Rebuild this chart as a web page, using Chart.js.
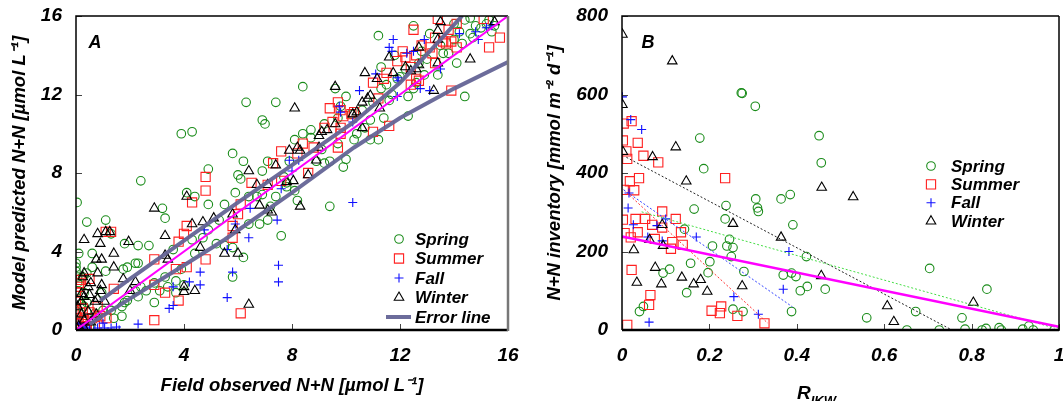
<!DOCTYPE html>
<html>
<head>
<meta charset="utf-8">
<script src="https://cdn.jsdelivr.net/npm/chart.js@4.4.0/dist/chart.umd.min.js"></script>
<style>
html, body { margin: 0; background: #fff; overflow: hidden; }
canvas { display: block; }
#wrapA { position: absolute; left: 0; top: 0; }
#wrapB { position: absolute; left: 530px; top: 0; }
</style>
</head>
<body>
<div id="wrapA"><canvas id="chartA" width="530" height="401"></canvas></div>
<div id="wrapB"><canvas id="chartB" width="533" height="401"></canvas></div>
<script>
// ---- Panel A data: [field observed, model predicted] ----
var springA = [
  [0.04,6.5],[2.4,7.6],[3.9,10.0],[4.3,10.1],[6.3,11.6],[7.4,11.6],[6.9,10.7],[7.0,10.5],[8.4,12.4],[11.2,15.0],
  [12.5,15.5],[14.4,11.9],[12.3,10.9],[9.4,6.3],[7.6,4.8],[5.8,2.7],[4.9,6.4],[4.9,8.2],[5.8,9.0],[6.2,8.6],
  [4.1,7.0],[4.4,6.8],[1.1,5.6],[0.4,5.5],[0.1,3.9],[0,3.4],[0,3.2],[0,3.0],[3.2,6.2],[3.3,5.7],
  [0.6,3.9],[1.8,4.4],[2.3,4.3],[2.7,4.3],[1.75,3.1],[1.9,3.2],[2.2,3.4],[2.3,3.4],[1.3,4.9],[1.1,3.0],
  [2.9,1.4],[1.8,1.4],[1.4,0.6],[1.7,0.7],[0.8,0.7],[3.3,2.7],[3.7,1.9],[4.0,2.3],[3.6,4.1],[4.3,4.6],
  [4.9,5.1],[5.5,6.4],[5.9,7.0],[6.0,7.9],[6.1,7.7],[6.4,6.8],[6.4,5.4],[6.8,5.4],[7.1,5.6],[6.7,6.8],
  [6.9,6.9],[7.1,8.6],[6.9,8.1],[6.2,3.7],[5.8,4.2],[5.5,4.3],[5.3,5.6],[7.8,7.3],[7.8,7.5],[8.1,7.1],
  [8.2,6.6],[7.9,8.6],[8.1,9.7],[8.4,10.0],[8.7,9.8],[9.1,9.2],[9.4,8.6],[9.9,8.3],[10.0,8.7],[9.7,9.5],
  [10.3,9.7],[10.4,10.0],[10.7,10.3],[10.9,10.7],[10.9,9.7],[11.2,9.7],[10.2,11.0],[10.0,11.9],[9.8,11.4],[9.6,12.3],
  [11.4,10.8],[11.6,11.7],[11.7,12.0],[11.9,12.8],[12.3,11.9],[12.5,12.3],[12.9,13.0],[12.7,13.6],[13.4,13.0],[14.1,13.6],
  [13.8,14.1],[13.6,14.1],[14.3,14.6],[14.6,15.1],[14.8,15.5],[15.0,15.4],[15.2,15.6],[15.4,15.2],[14.6,15.9],[14.4,15.8],
  [14.0,15.6],[13.1,15.1],[11.8,14.0],[11.3,13.4],[11.3,12.3],[9.7,10.8],[9.2,10.5],[8.7,10.2],[8.9,8.6],[9.2,8.5],
  [7.4,6.8],[7.7,7.8],[7.2,6.3],[5.2,4.4],[4.7,4.7],[4.4,3.9],[3.9,3.1],[3.7,2.5],[3.4,2.2],[2.9,2.4],
  [3.1,2.0],[2.6,2.0],[2.4,2.2],[2.2,2.0],[2.3,1.7],[1.9,1.5],[1.7,1.2],[1.3,1.0],[1.0,1.0],[0.7,0.85],
  [0.3,1.2],[0.3,1.9],[0.06,2.0],[0.06,2.4],[0.06,2.7],[0.1,1.5],[0.2,1.3],[0.4,1.4],[0,0.5],[0.04,0.8],
  [0.1,0.25],[0.5,0.17],[0.25,2.7],[0.6,3.2],[0.4,2.9],[0.95,1.9],[12.0,12.9],[12.2,13.3],[12.6,12.6],[13.0,13.8],
  [13.5,14.5],[14.0,14.8],[14.2,15.2],[14.7,14.9],[15.3,15.8],[15.5,15.5],[12.8,14.2],[11.5,12.5],[10.6,11.2],[11.0,11.6]
];
var summerA = [
  [13.4,15.85],[15.1,15.85],[12.5,15.3],[15.7,14.9],[15.3,14.4],[14.1,15.6],[13.8,15.3],[13.6,14.7],[13.7,14.6],[13.9,14.7],
  [14.1,14.4],[13.3,14.9],[13.1,14.4],[12.8,14.5],[13.2,14.1],[13.3,13.6],[12.6,14.0],[12.1,14.2],[12.2,13.9],[11.9,13.7],
  [12.4,13.4],[12.6,12.8],[12.7,12.7],[12.4,12.5],[11.5,13.1],[11.4,12.8],[11.0,12.6],[11.2,11.8],[11.6,10.4],[11.0,10.1],
  [13.9,12.2],[9.4,11.3],[9.7,11.6],[9.8,11.2],[9.9,10.9],[10.2,11.0],[10.3,11.1],[9.5,10.6],[9.8,10.3],[9.8,10.0],
  [9.7,9.3],[9.2,10.3],[8.4,9.5],[8.8,9.3],[8.2,9.0],[8.6,8.0],[7.6,9.1],[7.3,8.5],[7.6,7.6],[7.1,7.4],
  [6.5,7.5],[6.1,6.4],[6.0,5.9],[5.8,5.3],[5.8,4.7],[4.8,7.8],[4.8,7.1],[4.3,6.5],[4.1,5.3],[4.0,4.9],
  [3.8,4.5],[3.7,3.1],[4.1,3.2],[4.8,3.6],[2.9,3.6],[2.9,2.3],[3.3,1.9],[3.8,1.5],[2.9,0.5],[6.1,0.85],
  [1.1,5.0],[1.3,5.0],[0.9,0.7],[0.5,2.6],[0.1,2.4],[0,1.9],[0,1.5],[0.19,2.55],[0.12,2.2],[1.4,2.1],
  [0,0],[0.1,0.1],[0.2,0.3],[0.05,0.6],[0.3,0.5],[0.15,0.9],[0.4,0.2],[0.6,0.6],[0.1,0.35],[0.25,1.1],
  [0.5,0.9],[0.8,1.2],[0,1.0],[0,0.3],[0.35,0],[0.7,0.2],[1.13,0.6]
];
var fallA = [
  [11.75,14.8],[11.6,14.4],[11.7,14.2],[12.9,14.8],[12.5,14.2],[12.25,14.1],[13.5,13.3],[13.1,12.2],[12.75,12.3],[11.9,12.85],
  [11.95,12.7],[11.1,13.05],[10.5,12.2],[11.9,11.9],[14.2,15.1],[14.8,15.2],[14.9,14.8],[15.2,15.4],[15.4,15.5],[9.75,11.4],
  [9.8,11.1],[10.25,10.6],[10.25,6.5],[7.9,8.65],[8.25,8.65],[8.0,8.1],[7.6,7.2],[6.45,6.2],[6.4,4.7],[5.9,5.4],
  [4.75,5.1],[7.45,5.6],[7.5,3.3],[7.5,2.45],[5.8,2.95],[5.6,4.1],[5.6,1.65],[4.6,2.95],[4.6,2.3],[4.2,2.45],
  [3.6,2.2],[3.45,1.1],[3.6,1.25],[2.3,0.3],[0.4,0.1],[0.5,0],[0.7,0],[0.8,0.1],[1.06,0.1],[1.3,0.1],
  [1.5,0.15],[1.6,0],[0.1,0.3],[0.2,0.05],[0.3,0.15],[1.0,0.35]
];
var winterA = [
  [13.5,15.7],[13.4,15.25],[15.5,15.7],[14.6,13.8],[13.4,13.6],[13.25,12.2],[13.4,14.8],[12.7,14.4],[11.6,13.9],[12.2,13.4],
  [12.4,13.2],[12.7,13.5],[12.6,13.3],[11.75,13.1],[10.7,13.1],[11.15,12.8],[10.9,11.95],[10.8,11.8],[10.6,11.6],[10.25,11.0],
  [10.4,11.1],[11.25,11.3],[10.6,10.3],[9.6,12.4],[8.1,11.3],[9.6,10.5],[9.3,10.2],[9.1,10.1],[9.0,9.9],[9.0,9.3],
  [8.2,9.3],[8.3,9.15],[7.9,9.15],[8.9,8.65],[8.6,7.9],[7.8,7.55],[8.05,7.6],[8.3,6.3],[7.4,8.4],[7.1,7.4],
  [6.7,7.4],[6.4,8.1],[6.8,6.35],[7.1,6.1],[7.25,6.0],[5.9,5.1],[6.0,3.9],[5.5,3.9],[5.8,5.9],[6.4,1.3],
  [5.1,5.7],[4.7,5.5],[4.6,4.2],[4.3,5.4],[4.1,6.8],[3.3,4.8],[3.3,3.8],[2.9,6.2],[4.0,2.2],[4.0,1.95],
  [4.4,2.0],[3.4,3.6],[2.0,2.0],[2.2,2.45],[1.95,4.5],[1.75,2.6],[1.4,3.9],[1.4,3.2],[0.8,4.9],[0.9,4.4],
  [0.75,3.6],[0.95,3.6],[0.3,4.6],[1.1,5.0],[1.25,5.0],[0.8,2.9],[0.95,2.3],[0.9,2.0],[0.3,2.9],[0.25,2.7],
  [0.45,2.2],[0.55,2.4],[0.2,1.85],[0.3,1.7],[0.5,1.8],[0.8,1.6],[0.7,1.45],[1.06,1.45],[0.2,1.45],[0.06,1.2],
  [0.45,0.95],[0.2,0.8],[0.75,0.8],[0.3,0.5],[0.55,0.4],[0.1,0.2],[0.3,0.1],[0.05,0.05]
];
var oneToOneA = [[0,0],[16,16]];
var errUpperA = [[0.9,1.5],[2,2.6],[4,4.55],[6,6.5],[8,8.4],[10.3,10.6],[12,12.6],[13.1,14.2],[14.3,16]];
var errLowerA = [[0.5,0.3],[2,1.6],[4,3.3],[5.5,4.6],[8,7.0],[10.3,9.3],[12,10.8],[14,12.3],[16,13.65]];

// ---- Panel B data: [R_IKW, N+N inventory] ----
var springB = [
  [0.273,604],[0.275,603],[0.305,570],[0.178,489],[0.187,411],[0.451,495],[0.456,426],[0.306,334],[0.31,311],[0.312,302],
  [0.364,334],[0.385,345],[0.238,317],[0.165,308],[0.143,257],[0.236,283],[0.391,268],[0.246,231],[0.24,214],[0.254,210],
  [0.207,214],[0.25,187],[0.201,174],[0.157,170],[0.197,146],[0.279,149],[0.109,155],[0.094,145],[0.148,95],[0.049,60],
  [0.04,47],[0.254,53],[0.277,47],[0.422,187],[0.369,140],[0.388,145],[0.398,136],[0.424,111],[0.408,100],[0.465,104],
  [0.388,47],[0.56,31],[0.652,0],[0.672,47],[0.704,157],[0.726,0],[0.778,31],[0.785,2],[0.824,0],[0.833,4],
  [0.835,104],[0.863,6],[0.868,0],[0.917,2],[0.931,10],[0.941,0],[0.989,0]
];
var summerB = [
  [0.004,526],[0.022,532],[0.002,483],[0.01,455],[0.012,436],[0.036,477],[0.049,444],[0.083,427],[0.236,387],[0.018,379],
  [0.039,387],[0.004,357],[0.028,356],[0.092,302],[0.002,281],[0.031,283],[0.053,283],[0.069,268],[0.092,261],[0.123,283],
  [0.135,249],[0.006,247],[0.036,249],[0.02,236],[0.075,232],[0.115,224],[0.139,217],[0.112,207],[0.022,153],[0.065,89],
  [0.062,64],[0.205,49],[0.224,43],[0.227,60],[0.264,36],[0.326,17],[0.012,13]
];
var fallB = [
  [0.001,594],[0.02,536],[0.045,511],[0.016,349],[0.014,311],[0.026,268],[0.08,266],[0.1,283],[0.059,237],[0.092,227],
  [0.17,237],[0.382,200],[0.369,104],[0.256,85],[0.312,40],[0.062,20]
];
var winterB = [
  [0.001,753],[0.115,685],[0.001,574],[0.123,466],[0.002,454],[0.07,441],[0.147,379],[0.457,363],[0.529,339],[0.254,271],
  [0.092,268],[0.364,236],[0.063,230],[0.094,215],[0.027,204],[0.076,159],[0.137,134],[0.18,128],[0.034,121],[0.09,117],
  [0.164,117],[0.195,98],[0.275,112],[0.456,138],[0.607,61],[0.622,21],[0.804,70]
];
var allFitB = [[0,238],[1,8]];
var springFitB = [[0.045,301],[0.99,5]];
var winterFitB = [[0.01,440],[0.755,0]];
var fallFitB = [[0.004,357],[0.39,59]];
var summerFitB = [[0.004,357],[0.334,17]];

var ticksA = [0, 4, 8, 12, 16];
var xTicksB = [0, 0.2, 0.4, 0.6, 0.8, 1];
var yTicksB = [0, 200, 400, 600, 800];

var FAMILY = '"Liberation Sans", Arial, sans-serif';
var tickFont = { family: FAMILY, size: 19, weight: "bold", style: "italic" };
var titleFont = { family: FAMILY, size: 18.5, weight: "bold", style: "italic" };

var GREEN = "#1a8c1a";
var RED = "#ff2020";
var BLUE = "#1010ff";
var BLACK = "#000000";
var ERRCOL = "rgba(100,100,150,0.95)";

function pts(arr) {
  return arr.map(function (p) { return { x: p[0], y: p[1] }; });
}

function markerSet(label, arr, style, color, r) {
  return {
    label: label,
    data: pts(arr),
    pointStyle: style,
    pointRadius: r,
    pointBorderColor: color,
    pointBackgroundColor: "rgba(0,0,0,0)",
    pointBorderWidth: 1.1,
    showLine: false,
  };
}

function lineSet(label, arr, color, width, dash) {
  return {
    label: label,
    data: pts(arr),
    showLine: true,
    borderColor: color,
    borderWidth: width,
    borderDash: dash || [],
    pointRadius: 0,
    fill: false,
  };
}

// draws the frame, inward ticks, panel letter and legend
var decorPlugin = {
  id: "decor",
  afterDraw: function (chart, args, opts) {
    var ctx = chart.ctx;
    var a = chart.chartArea;
    ctx.save();
    // inward ticks
    ctx.strokeStyle = "#444";
    ctx.lineWidth = 1;
    var xs = chart.scales.x, ys = chart.scales.y;
    xs.ticks.forEach(function (t) {
      var px = Math.round(xs.getPixelForValue(t.value)) + 0.5;
      ctx.beginPath(); ctx.moveTo(px, a.bottom); ctx.lineTo(px, a.bottom - 6); ctx.stroke();
    });
    ys.ticks.forEach(function (t) {
      var py = Math.round(ys.getPixelForValue(t.value)) + 0.5;
      ctx.beginPath(); ctx.moveTo(a.left, py); ctx.lineTo(a.left + 6, py); ctx.stroke();
    });
    // frame
    ctx.lineWidth = 1.5;
    ctx.strokeStyle = "#000";
    ctx.beginPath();
    ctx.moveTo(a.right, a.top); ctx.lineTo(a.left, a.top); ctx.lineTo(a.left, a.bottom); ctx.stroke();
    ctx.lineWidth = 2.5;
    ctx.beginPath(); ctx.moveTo(a.left, a.bottom); ctx.lineTo(a.right, a.bottom); ctx.stroke();
    ctx.lineWidth = opts.rightWidth;
    ctx.strokeStyle = opts.rightColor;
    ctx.beginPath(); ctx.moveTo(a.right, a.top); ctx.lineTo(a.right, a.bottom + 1); ctx.stroke();
    // panel letter
    ctx.fillStyle = "#000";
    ctx.font = "bold italic 18px " + FAMILY;
    ctx.textAlign = "center";
    ctx.textBaseline = "middle";
    ctx.fillText(opts.letter, opts.letterX, opts.letterY);
    // legend
    ctx.font = "bold italic 17px " + FAMILY;
    ctx.textAlign = "left";
    opts.legend.forEach(function (item, i) {
      var y = opts.legendY + i * opts.legendStep;
      var ds = chart.data.datasets[item.ds];
      if (item.line) {
        ctx.strokeStyle = ds.borderColor;
        ctx.lineWidth = ds.borderWidth;
        ctx.beginPath(); ctx.moveTo(opts.markerX - 13, y); ctx.lineTo(opts.markerX + 12, y); ctx.stroke();
      } else {
        ctx.strokeStyle = ds.pointBorderColor;
        ctx.fillStyle = "rgba(0,0,0,0)";
        ctx.lineWidth = ds.pointBorderWidth;
        Chart.helpers.drawPoint(ctx, { pointStyle: ds.pointStyle, radius: ds.pointRadius, borderWidth: ds.pointBorderWidth, rotation: 0 }, opts.markerX, y);
      }
      ctx.fillStyle = "#000";
      ctx.fillText(item.text, opts.textX, y + 1);
    });
    // optional custom x title with subscript
    if (opts.subTitle) {
      ctx.textBaseline = "alphabetic";
      ctx.font = "bold italic 19px " + FAMILY;
      ctx.fillText("R", opts.subTitle.x, opts.subTitle.y);
      var w = ctx.measureText("R").width;
      ctx.font = "bold italic 13px " + FAMILY;
      ctx.fillText("IKW", opts.subTitle.x + w, opts.subTitle.y + 6);
    }
    ctx.restore();
  },
};

function axis(min, max, ticks, fmt, size, title) {
  return {
    type: "linear",
    min: min,
    max: max,
    afterBuildTicks: function (s) { s.ticks = ticks.map(function (v) { return { value: v }; }); },
    afterFit: function (s) {
      if (s.isHorizontal()) { s.height = size; } else { s.width = size; }
      // keep the plot area fixed: no extra room for end labels
      s.paddingLeft = 0; s.paddingRight = 0; s.paddingTop = 0; s.paddingBottom = 0;
    },
    grid: { display: false, drawTicks: false },
    border: { display: false },
    ticks: { color: "#000", font: tickFont, padding: 14, callback: fmt, maxRotation: 0, autoSkip: false },
    title: title,
  };
}

var chartA = new Chart(document.getElementById("chartA"), {
  type: "scatter",
  data: {
    datasets: [
      lineSet("1:1", oneToOneA, "#ff00ff", 2),
      lineSet("Error line", errUpperA, ERRCOL, 4),
      lineSet("Error line low", errLowerA, ERRCOL, 4),
      markerSet("Winter", winterA, "triangle", BLACK, 5.5),
      markerSet("Fall", fallA, "cross", BLUE, 4.5),
      markerSet("Summer", summerA, "rect", RED, 6.5),
      markerSet("Spring", springA, "circle", GREEN, 4.3),
    ],
  },
  options: {
    responsive: false,
    animation: false,
    layout: { autoPadding: false, padding: { left: 0, top: 16, right: 22, bottom: 0 } },
    plugins: {
      legend: { display: false },
      tooltip: { enabled: false },
      decor: {
        letter: "A", letterX: 95, letterY: 43,
        rightColor: "#777", rightWidth: 2.5,
        markerX: 399, textX: 415, legendY: 239, legendStep: 19.5,
        legend: [
          { ds: 6, text: "Spring" },
          { ds: 5, text: "Summer" },
          { ds: 4, text: "Fall" },
          { ds: 3, text: "Winter" },
          { ds: 1, text: "Error line", line: true },
        ],
      },
    },
    scales: {
      x: axis(0, 16, ticksA, function (v) { return v; }, 71,
        { display: true, text: "Field observed N+N [\u00b5mol L\u207b\u00b9]", color: "#000", font: titleFont, padding: { top: 0, bottom: 4 } }),
      y: axis(0, 16, ticksA, function (v) { return v; }, 76,
        { display: true, text: "Model predicted N+N [\u00b5mol L\u207b\u00b9]", color: "#000", font: titleFont, padding: { top: 9, bottom: 0 } }),
    },
  },
  plugins: [decorPlugin],
});

var chartB = new Chart(document.getElementById("chartB"), {
  type: "scatter",
  data: {
    datasets: [
      lineSet("All", allFitB, "#ff00ff", 2.5),
      lineSet("Spring fit", springFitB, "#44dd44", 1, [2, 2]),
      lineSet("Winter fit", winterFitB, "#222", 1, [2, 2]),
      lineSet("Fall fit", fallFitB, "#3344ff", 1, [2, 2]),
      lineSet("Summer fit", summerFitB, "#ff3333", 1, [2, 2]),
      markerSet("Winter", winterB, "triangle", BLACK, 5.5),
      markerSet("Fall", fallB, "cross", BLUE, 4.5),
      markerSet("Summer", summerB, "rect", RED, 6.5),
      markerSet("Spring", springB, "circle", GREEN, 4.3),
    ],
  },
  options: {
    responsive: false,
    animation: false,
    layout: { autoPadding: false, padding: { left: 0, top: 16, right: 4, bottom: 0 } },
    plugins: {
      legend: { display: false },
      tooltip: { enabled: false },
      decor: {
        letter: "B", letterX: 118, letterY: 43,
        rightColor: "#000", rightWidth: 1.5,
        markerX: 401, textX: 421, legendY: 166, legendStep: 18.4,
        legend: [
          { ds: 8, text: "Spring" },
          { ds: 7, text: "Summer" },
          { ds: 6, text: "Fall" },
          { ds: 5, text: "Winter" },
        ],
        subTitle: { x: 267, y: 399 },
      },
    },
    scales: {
      x: axis(0, 1, xTicksB, function (v) { return v === 0 || v === 1 ? String(v) : v.toFixed(1); }, 71,
        { display: false }),
      y: axis(0, 800, yTicksB, function (v) { return v; }, 92,
        { display: true, text: "N+N inventory [mmol m\u207b\u00b2 d\u207b\u00b9]", color: "#000", font: titleFont, padding: { top: 14, bottom: 0 } }),
    },
  },
  plugins: [decorPlugin],
});
</script>
</body>
</html>
